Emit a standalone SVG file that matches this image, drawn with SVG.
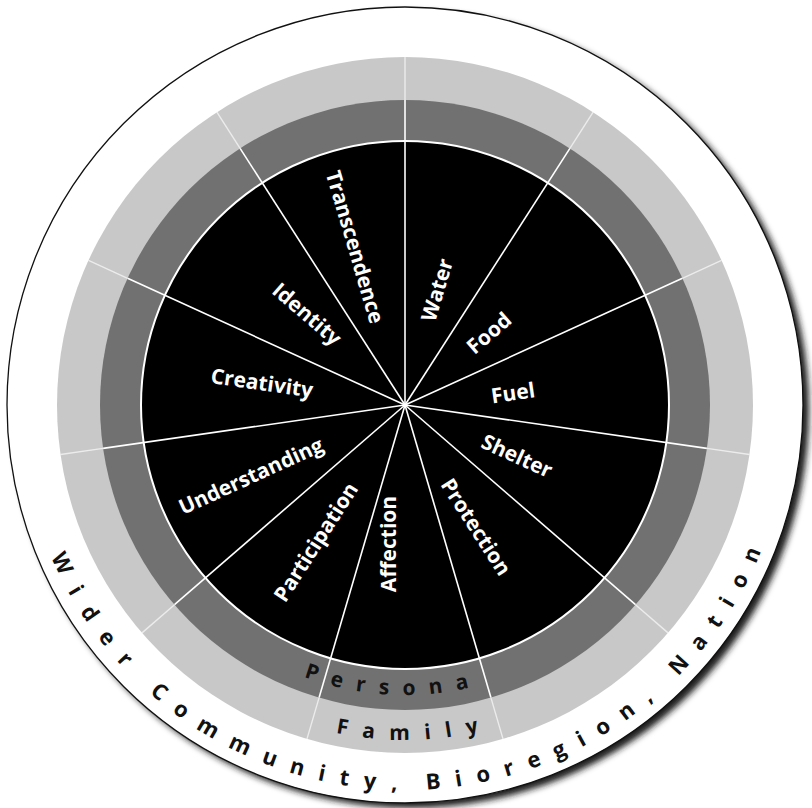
<svg xmlns="http://www.w3.org/2000/svg" width="812" height="808" viewBox="0 0 812 808">
<style>
.lbl{font-family:"Open Sans","Liberation Sans",sans-serif;font-weight:700;font-size:21px;fill:#fff;text-anchor:middle}
.ring{font-family:"Open Sans","Liberation Sans",sans-serif;font-weight:700;fill:#111}
.spoke{stroke:#fff;stroke-width:1.6;fill:none}
.spoke2{stroke:#fff;stroke-width:1.4;stroke-opacity:0.65;fill:none}
</style>
<defs>
<filter id="sh" x="-10%" y="-10%" width="120%" height="120%"><feGaussianBlur stdDeviation="3"/></filter>
<path id="arcOuter" d="M 20 405 A 385 385 0 0 0 790 405"/>
<path id="arcFamily" d="M 70 405 A 335 335 0 0 0 740 405"/>
<path id="arcPersonal" d="M 115 405 A 290 290 0 0 0 695 405"/>
</defs>
<rect width="812" height="808" fill="#fff"/>
<g id="ring-wider">
<circle cx="411" cy="410" r="398" fill="#1a1a1a" filter="url(#sh)"/>
<circle cx="405" cy="405" r="398" fill="#fff" stroke="#111" stroke-width="1.3"/>
<text class="ring" font-size="22" letter-spacing="15.2"><textPath href="#arcOuter" startOffset="156" letter-spacing="17">Wider </textPath><textPath href="#arcOuter" startOffset="325">Community, </textPath><textPath href="#arcOuter" startOffset="626">Bioregion, </textPath><textPath href="#arcOuter" startOffset="908">Nation</textPath></text>
</g>
<g id="ring-family">
<circle cx="405" cy="405" r="348" fill="#c8c8c8"/>
<text class="ring" font-size="21" letter-spacing="15"><textPath href="#arcFamily" startOffset="536" text-anchor="middle">Family</textPath></text>
</g>
<g id="ring-personal">
<circle cx="405" cy="405" r="305" fill="#717171"/>
</g>
<g id="core">
<circle cx="405" cy="405" r="264" fill="#000" stroke="#fff" stroke-width="2"/>
</g>
<g id="connectors">
<line class="spoke" x1="405" y1="405" x2="405" y2="100"/>
<line class="spoke" x1="405" y1="405" x2="569.9" y2="148.4"/>
<line class="spoke" x1="405" y1="405" x2="682.4" y2="278.3"/>
<line class="spoke" x1="405" y1="405" x2="706.9" y2="448.4"/>
<line class="spoke" x1="405" y1="405" x2="635.5" y2="604.7"/>
<line class="spoke" x1="405" y1="405" x2="490.9" y2="697.6"/>
<line class="spoke" x1="405" y1="405" x2="319.1" y2="697.6"/>
<line class="spoke" x1="405" y1="405" x2="174.5" y2="604.7"/>
<line class="spoke" x1="405" y1="405" x2="103.1" y2="448.4"/>
<line class="spoke" x1="405" y1="405" x2="127.6" y2="278.3"/>
<line class="spoke" x1="405" y1="405" x2="240.1" y2="148.4"/>
<line class="spoke2" x1="405" y1="100" x2="405" y2="57"/>
<line class="spoke2" x1="569.9" y1="148.4" x2="593.1" y2="112.2"/>
<line class="spoke2" x1="682.4" y1="278.3" x2="721.5" y2="260.4"/>
<line class="spoke2" x1="706.9" y1="448.4" x2="749.5" y2="454.5"/>
<line class="spoke2" x1="635.5" y1="604.7" x2="668.0" y2="632.9"/>
<line class="spoke2" x1="490.9" y1="697.6" x2="503.0" y2="738.9"/>
<line class="spoke2" x1="319.1" y1="697.6" x2="307.0" y2="738.9"/>
<line class="spoke2" x1="174.5" y1="604.7" x2="142.0" y2="632.9"/>
<line class="spoke2" x1="103.1" y1="448.4" x2="60.5" y2="454.5"/>
<line class="spoke2" x1="127.6" y1="278.3" x2="88.5" y2="260.4"/>
<line class="spoke2" x1="240.1" y1="148.4" x2="216.9" y2="112.2"/>
</g>
<g id="personal-label">
<text class="ring" font-size="21" letter-spacing="13.9"><textPath href="#arcPersonal" startOffset="443" text-anchor="middle">Persona</textPath></text>
</g>
<g id="seg-water"><text class="lbl" transform="translate(437,290) rotate(-73.6)" dy="0.35em">Water</text></g>
<g id="seg-food"><text class="lbl" transform="translate(489,333) rotate(-40.9)" dy="0.35em">Food</text></g>
<g id="seg-fuel"><text class="lbl" transform="translate(513,393) rotate(-8.2)" dy="0.35em">Fuel</text></g>
<g id="seg-shelter"><text class="lbl" transform="translate(517,456) rotate(24.5)" dy="0.35em">Shelter</text></g>
<g id="seg-protection"><text class="lbl" transform="translate(476,527) rotate(57.3)" dy="0.35em">Protection</text></g>
<g id="seg-affection"><text class="lbl" transform="translate(389,544) rotate(-90)" dy="0.35em">Affection</text></g>
<g id="seg-participation"><text class="lbl" transform="translate(316,542) rotate(-57.3)" dy="0.35em">Participation</text></g>
<g id="seg-understanding"><text class="lbl" transform="translate(251,476) rotate(-24.5)" dy="0.35em">Understanding</text></g>
<g id="seg-creativity"><text class="lbl" transform="translate(262,383) rotate(8.2)" dy="0.35em">Creativity</text></g>
<g id="seg-identity"><text class="lbl" transform="translate(307,314) rotate(40.9)" dy="0.35em">Identity</text></g>
<g id="seg-transcendence"><text class="lbl" transform="translate(355,247) rotate(73.6)" dy="0.35em">Transcendence</text></g>
</svg>
